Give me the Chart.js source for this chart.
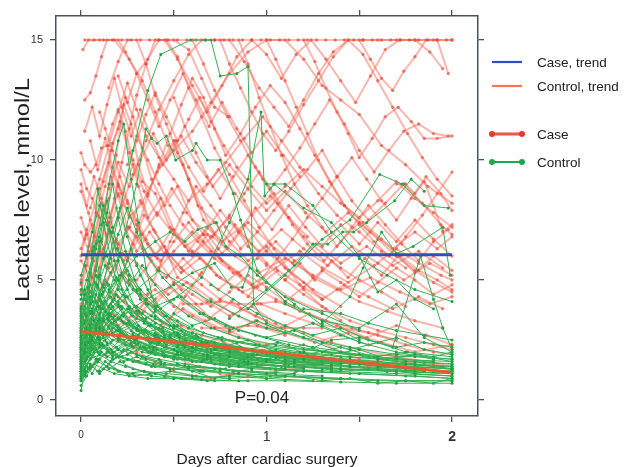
<!DOCTYPE html>
<html>
<head>
<meta charset="utf-8">
<title>Lactate level after cardiac surgery</title>
<script src="https://cdn.jsdelivr.net/npm/chart.js@4.4.1/dist/chart.umd.min.js"></script>
<style>
  html, body { margin: 0; padding: 0; background: #fff; }
  #wrap { width: 625px; height: 467px; }
</style>
</head>
<body>
<div id="wrap"><canvas id="chart" width="625" height="467"></canvas></div>
<script>
// ===== 数据：每位病人一条轨迹 [天, 乳酸 mmol/L] =====
const caseLines = [
  [[0.02,15],[0.07,15],[0.12,15],[0.17,15],[0.22,15],[0.27,15],[0.32,15],[0.37,15],[0.42,15],[0.47,15],[0.52,15],[0.57,15],[0.62,15],[0.67,15],[0.72,15],[0.77,15],[0.82,15],[0.87,15],[0.92,15],[0.97,15],[1.02,15],[1.07,15],[1.12,15],[1.17,15],[1.22,15],[1.27,15],[1.32,15],[1.37,15],[1.42,15],[1.47,15],[1.52,15],[1.57,15],[1.62,15],[1.67,15],[1.72,15],[1.77,15],[1.82,15],[1.87,15],[1.92,15],[1.97,15],[2.0,15]],
  [[0.01,14.6],[0.04,15],[0.1,15],[0.18,15],[0.26,14.2],[0.33,13.3],[0.4,12],[0.47,10.6],[0.55,9.8],[0.63,8.1],[0.72,7.4],[0.8,6.6],[0.9,5.8],[1.0,6.4],[1.1,5.5],[1.2,4.9],[1.3,4.2]],
  [[0.02,12.5],[0.05,12.8],[0.08,13.5],[0.11,14.3],[0.14,15],[0.2,15],[0.24,14.5],[0.3,13.6],[0.36,14.2],[0.42,15],[0.5,15],[0.58,14.6],[0.65,13.4],[0.72,12.2],[0.8,11.8]],
  [[0,10.3],[0.02,9.8],[0.05,9.5],[0.08,9.8],[0.11,10.5],[0.14,10.6],[0.17,11.5],[0.2,12.1],[0.24,11.2],[0.28,10],[0.33,9.1],[0.4,8.6],[0.48,7.2],[0.56,6.4],[0.66,6.9],[0.76,5.8],[0.86,5.2]],
  [[0,9.6],[0.03,8.8],[0.06,8.4],[0.09,7.7],[0.13,8.9],[0.17,10.7],[0.21,11.6],[0.26,10.3],[0.31,8.9],[0.36,7.6],[0.43,8.4],[0.5,7.1],[0.6,6.2],[0.7,5.5]],
  [[0,8.7],[0.04,7.8],[0.08,6.6],[0.12,7.9],[0.16,9.3],[0.2,8.5],[0.25,7.2],[0.3,6.8],[0.37,5.9],[0.45,6.4],[0.52,5.1],[0.6,4.8],[0.7,4.2],[0.82,3.6],[0.95,3.1],[1.1,2.7]],
  [[0,7.6],[0.03,6.9],[0.07,5.8],[0.11,6.7],[0.15,8.4],[0.19,10.2],[0.23,12.3],[0.27,11.5],[0.31,9.8],[0.36,8.6],[0.42,9.7],[0.5,10.8],[0.58,9.2],[0.66,7.5],[0.76,6.6],[0.88,7.3],[1.0,6.2],[1.12,5.4],[1.25,4.6],[1.4,3.9]],
  [[0,7.0],[0.04,6.2],[0.08,5.4],[0.13,4.8],[0.19,5.6],[0.25,4.9],[0.32,4.3],[0.4,4.6],[0.5,3.9],[0.6,3.5],[0.72,3.0],[0.85,2.6],[1.0,2.3]],
  [[0,6.3],[0.05,7.5],[0.1,8.8],[0.15,9.9],[0.2,8.9],[0.26,7.6],[0.33,8.2],[0.41,9.5],[0.5,10.4],[0.6,11.2],[0.7,12.4],[0.8,13.6],[0.9,14.5],[1.0,15],[1.1,15],[1.2,14.2],[1.3,13.1],[1.4,12.5],[1.5,11.9],[1.62,10.6],[1.75,9.8],[1.87,8.9],[2.0,8.2]],
  [[0,5.8],[0.05,5.2],[0.1,4.6],[0.16,5.3],[0.22,6.1],[0.3,5.7],[0.38,5.0],[0.47,4.4],[0.57,4.9],[0.68,4.1],[0.8,3.5],[0.92,3.9],[1.05,3.2],[1.2,2.8],[1.35,2.4],[1.5,2.1],[1.7,1.8],[1.85,1.6],[2.0,1.4]],
  [[0,5.0],[0.04,6.4],[0.08,7.8],[0.12,9.1],[0.16,10.4],[0.2,11.3],[0.24,12.6],[0.28,11.8],[0.33,10.5],[0.38,9.2],[0.45,8.1],[0.52,8.9],[0.6,7.5],[0.7,6.8],[0.8,7.6],[0.9,6.4],[1.0,5.6]],
  [[0,4.5],[0.03,5.6],[0.07,6.8],[0.11,8.2],[0.15,7.4],[0.2,6.5],[0.26,7.2],[0.32,8.3],[0.39,7.1],[0.46,6.2],[0.54,5.5],[0.63,6.1],[0.73,5.2],[0.85,4.6],[0.97,4.0],[1.1,3.6],[1.25,3.2],[1.4,3.0],[1.55,2.8],[1.7,2.5]],
  [[0,4.0],[0.04,4.6],[0.08,5.5],[0.12,6.3],[0.17,7.0],[0.22,8.1],[0.28,9.4],[0.35,10.8],[0.42,12.1],[0.5,13.3],[0.58,14.4],[0.65,15],[0.72,15],[0.8,15],[0.88,14.1],[0.96,13.0],[1.04,12.2],[1.12,11.4],[1.2,12.5],[1.28,13.6],[1.36,14.5],[1.44,15],[1.52,15],[1.6,15],[1.7,15],[1.8,15],[1.9,15],[2.0,15]],
  [[0,3.5],[0.03,4.2],[0.06,5.1],[0.1,6.2],[0.14,7.4],[0.18,6.6],[0.23,5.8],[0.28,6.5],[0.34,7.7],[0.4,7.0],[0.47,6.1],[0.55,5.4],[0.65,4.8],[0.75,4.2],[0.86,3.8],[1.0,3.3]],
  [[0,3.0],[0.04,3.8],[0.08,4.9],[0.12,6.1],[0.16,7.6],[0.2,9.0],[0.25,8.2],[0.3,7.3],[0.36,6.5],[0.43,5.8],[0.5,6.6],[0.58,7.4],[0.66,6.6],[0.75,5.9],[0.85,5.3],[0.95,5.9],[1.05,6.6],[1.15,5.8],[1.25,5.1],[1.38,4.6],[1.5,4.1],[1.65,3.7],[1.8,3.3],[1.95,3.0]],
  [[0,2.6],[0.04,3.2],[0.09,4.0],[0.14,3.6],[0.2,3.1],[0.27,3.5],[0.35,4.1],[0.44,3.6],[0.54,3.1],[0.65,2.7],[0.77,2.4],[0.9,2.1],[1.05,1.9],[1.2,1.7]],
  [[0.05,8.0],[0.1,9.2],[0.15,10.6],[0.2,12.0],[0.25,13.2],[0.3,12.1],[0.35,11.0],[0.42,10.1],[0.5,9.2],[0.58,8.3],[0.68,9.0],[0.78,9.9],[0.88,10.9],[0.98,11.8],[1.08,10.8],[1.18,9.7],[1.28,8.6],[1.38,7.7],[1.5,7.0],[1.62,6.2],[1.75,5.5]],
  [[0.1,5.5],[0.14,6.9],[0.18,8.4],[0.22,9.9],[0.26,11.3],[0.3,12.7],[0.35,14.0],[0.4,15],[0.46,15],[0.52,14.3],[0.58,13.0],[0.65,11.8],[0.72,10.5],[0.8,9.4],[0.88,8.3],[0.96,7.2],[1.04,6.3],[1.12,5.4],[1.2,4.6],[1.3,3.9],[1.4,3.3]],
  [[0.2,4.6],[0.25,5.8],[0.3,7.1],[0.36,8.5],[0.42,9.8],[0.48,11.1],[0.54,12.3],[0.6,13.4],[0.66,12.6],[0.72,11.3],[0.78,10.2],[0.86,11.1],[0.94,12.2],[1.02,13.1],[1.1,12.4],[1.18,11.3],[1.26,10.2],[1.34,9.1],[1.42,8.1],[1.52,7.4],[1.62,6.7],[1.72,6.0],[1.82,5.4],[1.92,5.0],[2.0,4.6]],
  [[0.3,3.5],[0.36,4.4],[0.42,5.5],[0.48,6.6],[0.55,7.8],[0.62,8.9],[0.7,8.1],[0.78,7.2],[0.86,6.3],[0.95,7.0],[1.04,7.9],[1.13,8.8],[1.22,9.6],[1.3,10.4],[1.38,9.3],[1.46,8.3],[1.55,7.5],[1.64,8.2],[1.74,9.0],[1.84,8.2],[1.94,7.3],[2.0,6.9]],
  [[0.45,15],[0.52,14.2],[0.6,13.1],[0.68,12.0],[0.76,13.1],[0.84,14.3],[0.92,15],[1.0,14.4],[1.08,13.4],[1.16,14.4],[1.24,15],[1.32,14.2],[1.4,13.3],[1.48,12.4],[1.56,13.5],[1.64,14.6],[1.72,15],[1.8,15],[1.88,14.5],[1.95,13.8]],
  [[0.6,15],[0.66,14.0],[0.72,12.9],[0.79,11.8],[0.86,10.8],[0.94,9.7],[1.02,8.8],[1.1,9.6],[1.18,10.5],[1.26,11.5],[1.34,12.5],[1.42,11.5],[1.5,10.4],[1.58,9.5],[1.66,10.4],[1.74,11.2],[1.82,11.5],[1.9,11.1],[1.98,11.0]],
  [[0.75,15],[0.8,14.0],[0.86,13.0],[0.92,12.0],[0.98,11.1],[1.05,10.4],[1.12,11.2],[1.2,12.3],[1.28,13.3],[1.36,14.3],[1.44,15],[1.52,14.4],[1.6,13.3],[1.68,12.2],[1.76,11.1],[1.84,10.1],[1.92,9.2],[2.0,8.5]],
  [[0.85,15],[0.9,14.0],[0.96,12.6],[1.02,11.4],[1.08,10.2],[1.15,9.0],[1.22,8.1],[1.3,7.2],[1.38,6.4],[1.46,7.2],[1.55,8.1],[1.64,7.3],[1.73,6.5],[1.82,5.8],[1.9,6.6],[1.98,7.1]],
  [[1.2,15],[1.26,14.1],[1.32,13.0],[1.38,12.0],[1.44,11.1],[1.5,10.1],[1.57,10.9],[1.64,11.8],[1.71,12.2],[1.78,11.6],[1.85,10.9],[1.92,10.9],[2.0,11.0]],
  [[1.5,15],[1.56,14.2],[1.62,13.4],[1.68,12.9],[1.74,13.7],[1.8,14.3],[1.86,15],[1.92,15],[1.98,13.6]],
  [[0.05,3.2],[0.1,3.8],[0.16,4.5],[0.23,4.1],[0.31,3.6],[0.4,4.2],[0.5,4.9],[0.6,4.4],[0.7,3.9],[0.8,4.5],[0.9,5.2],[1.0,4.7],[1.1,4.1],[1.2,4.7],[1.3,5.4],[1.4,4.9],[1.5,4.3],[1.6,4.9],[1.7,5.5],[1.8,5.0],[1.9,4.4],[2.0,4.8]],
  [[0,2.2],[0.05,2.6],[0.1,3.1],[0.18,2.7],[0.27,2.3],[0.37,2.0],[0.5,1.8],[0.62,1.4],[0.75,1.1],[0.9,1.0],[1.05,1.2],[1.2,1.4]],
  [[0.02,6.7],[0.06,7.3],[0.1,6.4],[0.15,5.5],[0.2,6.3],[0.26,7.2],[0.33,6.3],[0.41,5.4],[0.5,6.2],[0.6,7.0],[0.7,6.2],[0.8,5.5],[0.92,4.8],[1.05,5.5],[1.18,6.2],[1.3,5.5],[1.44,4.9],[1.58,5.6],[1.7,6.3],[1.82,5.7],[1.94,5.2],[2.0,5.0]],
  [[0.3,11.0],[0.36,10.0],[0.42,9.0],[0.48,8.1],[0.55,7.3],[0.63,6.6],[0.72,5.9],[0.82,5.3],[0.93,4.7],[1.05,4.2],[1.18,3.7],[1.32,3.3],[1.46,3.0],[1.6,2.7],[1.75,2.3],[1.9,2.0],[2.0,1.9]],
  [[0.15,13.0],[0.2,14.1],[0.25,15],[0.3,15],[0.35,14.0],[0.4,12.7],[0.46,11.5],[0.52,10.3],[0.58,9.2],[0.65,8.0],[0.72,6.9],[0.8,7.7],[0.88,8.6],[0.96,9.5],[1.04,8.6],[1.12,7.6],[1.2,6.8],[1.3,6.1],[1.4,5.5],[1.5,5.0],[1.62,4.5],[1.75,3.9]],
  [[0.4,2.6],[0.48,3.4],[0.56,4.3],[0.65,5.3],[0.74,6.3],[0.83,7.3],[0.92,6.5],[1.0,5.7],[1.1,5.0],[1.2,4.4],[1.32,3.8],[1.45,3.3],[1.6,2.9],[1.75,2.6],[1.9,2.3],[2.0,2.1]],
  [[1.0,15],[1.05,14.2],[1.1,13.3],[1.16,12.2],[1.22,11.1],[1.28,10.0],[1.35,9.0],[1.42,8.1],[1.5,7.3],[1.58,6.6],[1.66,6.0],[1.75,6.8],[1.84,7.7],[1.92,8.6],[2.0,9.5]],
  [[0.5,12.6],[0.56,11.4],[0.62,10.3],[0.68,9.3],[0.75,8.4],[0.82,9.3],[0.9,10.2],[0.98,9.2],[1.06,8.2],[1.14,7.3],[1.22,6.5],[1.31,5.8],[1.4,6.6],[1.5,7.4],[1.6,6.7],[1.7,6.0],[1.8,5.4],[1.9,4.9],[2.0,4.5]],
  [[0.9,4.3],[0.98,5.1],[1.06,5.9],[1.14,6.7],[1.22,7.6],[1.3,8.4],[1.38,9.3],[1.46,10.1],[1.54,9.2],[1.62,8.3],[1.7,7.5],[1.78,8.4],[1.86,9.3],[1.94,8.6],[2.0,7.9]],
  [[0.2,2.5],[0.3,2.0],[0.4,1.6],[0.5,1.2],[0.6,1.0],[0.7,0.9],[0.82,1.1],[0.95,1.4],[1.1,1.6],[1.25,1.5],[1.4,1.3],[1.55,1.4],[1.7,1.6],[1.85,1.5],[2.0,1.3]],
  [[0.65,3.0],[0.72,3.0],[0.8,3.0],[0.9,3.1],[1.0,3.0],[1.1,3.0],[1.2,3.0],[1.3,3.0]],
  [[1.3,2.4],[1.4,2.0],[1.5,1.7],[1.6,1.6],[1.7,1.8],[1.8,1.6],[1.9,1.5],[2.0,1.2]],
  [[0.1,12.0],[0.13,11.3],[0.17,10.4],[0.21,9.3],[0.25,8.3],[0.3,7.5],[0.35,6.7],[0.41,5.9],[0.47,5.2],[0.54,4.6],[0.62,4.0],[0.7,3.4],[0.8,2.9],[0.9,2.5]],
  [[0.25,9.8],[0.3,10.8],[0.35,11.9],[0.4,12.8],[0.46,11.8],[0.52,10.8],[0.58,11.7],[0.64,12.6],[0.7,11.6],[0.77,10.6],[0.84,9.7],[0.92,8.9],[1.0,8.2],[1.1,8.9],[1.2,9.6],[1.3,8.9],[1.4,8.2],[1.5,7.6],[1.6,8.3],[1.7,9.1],[1.8,8.4],[1.9,7.8],[2.0,7.2]],
  [[1.7,9.0],[1.75,9.0],[1.8,8.6],[1.85,9.1],[1.9,8.1],[1.95,7.0],[2.0,7.3]],
  [[0.55,4.0],[0.65,4.0],[0.75,4.1],[0.85,4.0],[0.95,4.0],[1.05,4.1],[1.15,3.9]],
  [[0,6.0],[0.03,7.1],[0.06,6.3],[0.1,7.6],[0.14,6.8],[0.19,8.0],[0.24,7.1],[0.3,6.2],[0.37,7.0],[0.45,6.1],[0.54,5.3],[0.64,5.9],[0.75,5.1],[0.87,4.5],[1.0,4.9],[1.14,4.2],[1.3,3.7]],
  [[0,9.0],[0.03,8.1],[0.07,9.3],[0.11,8.4],[0.15,7.6],[0.2,8.6],[0.26,7.7],[0.33,6.9],[0.41,7.8],[0.5,6.9],[0.6,6.1],[0.71,6.8],[0.83,6.0],[0.96,5.3],[1.1,5.9],[1.25,5.2],[1.4,4.6],[1.56,5.1],[1.72,4.5],[1.88,4.0],[2.0,4.3]],
  [[0,4.8],[0.03,5.9],[0.06,5.1],[0.1,6.3],[0.14,5.5],[0.19,6.7],[0.25,5.8],[0.32,6.9],[0.4,6.0],[0.49,7.1],[0.58,6.2],[0.68,7.2],[0.79,6.3],[0.9,7.4],[1.02,6.5],[1.14,5.7],[1.27,6.5],[1.4,5.7],[1.54,6.4],[1.68,5.6],[1.82,6.2],[1.95,5.5]],
  [[0.05,10.8],[0.09,9.6],[0.13,10.9],[0.17,9.7],[0.22,8.6],[0.28,9.8],[0.34,8.7],[0.41,7.7],[0.49,8.8],[0.57,7.8],[0.66,6.9],[0.75,7.9],[0.85,7.0],[0.96,6.2],[1.08,7.1],[1.2,6.3],[1.33,5.6],[1.46,6.4],[1.6,5.7],[1.74,5.0],[1.88,5.7],[2.0,5.2]],
  [[0,3.8],[0.04,4.7],[0.08,4.1],[0.13,5.0],[0.18,4.3],[0.24,5.3],[0.31,4.6],[0.39,3.9],[0.48,4.7],[0.58,4.0],[0.69,3.4],[0.81,4.1],[0.94,3.5],[1.08,3.0],[1.23,3.6],[1.38,3.1],[1.54,2.6],[1.7,3.1],[1.86,2.7],[2.0,2.3]],
  [[0.02,11.2],[0.06,12.2],[0.1,11.0],[0.14,12.3],[0.18,13.4],[0.22,12.2],[0.27,11.0],[0.32,12.1],[0.38,10.9],[0.44,9.8],[0.51,10.8],[0.58,9.7],[0.66,8.7],[0.74,9.6],[0.83,8.6],[0.92,7.7],[1.02,8.5],[1.12,7.6],[1.22,6.8]],
  [[0.6,6.0],[0.68,6.9],[0.76,6.1],[0.85,7.0],[0.94,8.0],[1.03,7.1],[1.12,8.1],[1.21,7.2],[1.3,6.4],[1.4,7.3],[1.5,6.5],[1.6,7.4],[1.7,6.6],[1.8,7.5],[1.9,6.7],[2.0,6.0]],
  [[0.3,5.0],[0.38,5.8],[0.46,5.1],[0.55,5.9],[0.64,5.2],[0.74,4.6],[0.84,5.3],[0.95,4.7],[1.06,5.4],[1.18,4.8],[1.3,4.2],[1.42,4.8],[1.55,4.3],[1.68,3.8],[1.82,4.3],[1.95,3.8]],
  [[0.1,3.0],[0.17,3.6],[0.25,3.1],[0.34,3.7],[0.44,3.2],[0.55,3.8],[0.67,3.3],[0.8,2.8],[0.94,3.3],[1.1,2.8],[1.26,2.4],[1.44,2.8],[1.62,2.4],[1.8,2.0],[2.0,2.3]],
  [[0.15,8.8],[0.2,9.9],[0.26,8.9],[0.32,10.0],[0.39,11.1],[0.46,10.0],[0.54,11.0],[0.62,9.9],[0.71,8.9],[0.8,9.8],[0.9,8.8],[1.0,7.9],[1.1,8.7],[1.21,7.8],[1.32,7.0],[1.44,7.8],[1.56,7.0],[1.68,6.3],[1.8,7.0],[1.92,6.3],[2.0,6.8]],
  [[0.2,13.5],[0.25,12.4],[0.3,13.6],[0.36,12.5],[0.42,11.4],[0.48,12.5],[0.55,13.6],[0.62,12.5],[0.69,11.4],[0.76,12.4],[0.84,11.3],[0.92,10.3],[1.0,11.2],[1.09,10.2],[1.18,9.3]],
  [[1.1,5.0],[1.18,5.7],[1.26,5.0],[1.35,5.8],[1.44,5.1],[1.53,5.9],[1.62,5.2],[1.71,6.0],[1.8,5.3],[1.9,6.0],[2.0,5.4]]
];

const controlLines = [
  [[0,2.4],[0.05,3.1],[0.12,4.8],[0.2,7.6],[0.28,10.4],[0.36,12.9],[0.43,14.4],[0.59,15],[0.67,15],[0.7,15],[0.75,13.5],[0.84,13.6],[0.9,13.9],[0.93,4.0],[1.0,3.2],[1.2,2.6],[1.4,2.0],[1.6,1.7],[1.8,1.5],[2.0,1.3]],
  [[0,1.6],[0.1,2.5],[0.2,2.9],[0.35,3.4],[0.5,4.2],[0.65,5.1],[0.8,7.4],[0.9,9.2],[0.97,12.0],[0.99,8.5],[1.04,9.0],[1.1,9.0],[1.25,8.1],[1.35,7.0],[1.5,5.9],[1.65,5.2],[1.8,4.6],[2.0,4.1]],
  [[0,1.5],[0.1,3.0],[0.2,5.8],[0.3,9.0],[0.35,11.3],[0.38,10.9],[0.41,10.7],[0.46,11.0],[0.51,10.0],[0.6,10.4],[0.62,10.7],[0.68,10.0],[0.75,10.0],[0.82,8.6],[0.86,7.5],[0.95,5.4],[1.1,4.1],[1.3,3.3],[1.5,2.5]],
  [[0,2.1],[0.05,4.0],[0.1,6.6],[0.15,9.0],[0.2,10.8],[0.23,11.5],[0.27,9.2],[0.31,7.4],[0.35,5.5],[0.4,3.8],[0.5,3.0],[0.65,2.4],[0.8,2.0],[1.0,1.7]],
  [[0,1.8],[0.03,3.5],[0.06,6.2],[0.09,8.8],[0.12,7.4],[0.16,5.9],[0.2,4.6],[0.26,3.9],[0.34,3.2],[0.45,2.6],[0.6,2.2],[0.8,1.8],[1.0,1.6],[1.3,1.3]],
  [[0,2.9],[0.04,4.7],[0.08,6.5],[0.12,8.1],[0.16,7.0],[0.2,5.8],[0.25,4.6],[0.3,3.7],[0.38,3.1],[0.48,2.6],[0.6,2.2],[0.75,1.9],[0.9,1.6]],
  [[0.9,3.8],[1.1,5.2],[1.3,6.7],[1.45,7.5],[1.61,9.4],[1.73,9.0],[1.85,8.1],[1.98,8.0]],
  [[1.0,9.0],[1.04,9.0],[1.2,8.0],[1.35,7.4],[1.5,6.0],[1.6,4.5],[1.7,5.0],[1.8,4.2],[1.9,3.8]],
  [[1.3,3.2],[1.45,4.3],[1.52,5.5],[1.62,7.0],[1.7,6.1],[1.79,6.4],[1.95,7.2],[1.99,5.2]],
  [[1.2,2.0],[1.35,2.5],[1.5,2.6],[1.68,2.2],[1.83,6.0],[1.9,4.2],[1.95,3.0],[2.0,2.1]],
  [[0.8,3.4],[1.0,4.6],[1.15,5.6],[1.25,6.5],[1.33,6.5],[1.41,7.0],[1.47,7.0],[1.54,7.4],[1.69,8.3],[1.78,9.2],[1.85,8.7]],
  [[0,2.2],[0.1,3.6],[0.2,5.0],[0.3,6.0],[0.4,6.6],[0.48,7.0],[0.56,6.6],[0.63,7.1],[0.73,7.4],[0.78,6.4],[0.86,6.0],[0.95,5.2],[1.1,4.3],[1.3,3.6],[1.5,2.9]],
  [[0,1.2],[0.1,2.2],[0.2,3.4],[0.35,4.2],[0.5,4.8],[0.6,5.3],[0.72,5.7],[0.81,4.7],[0.87,4.7],[0.91,5.5],[1.0,4.9],[1.15,4.0],[1.3,3.1],[1.5,2.4],[1.7,2.0],[1.9,1.7]],
  [[0,3.8],[0.02,3.2],[0.05,2.9],[0.09,3.3],[0.14,2.8],[0.2,2.5],[0.28,2.2],[0.38,2.0],[0.5,1.8],[0.65,1.6],[0.85,1.4],[1.1,1.3]],
  [[0,1.0],[0.02,1.6],[0.05,2.2],[0.09,2.6],[0.14,2.4],[0.2,2.1],[0.3,1.9],[0.42,1.7],[0.56,1.5],[0.75,1.3],[1.0,1.1],[1.3,1.0]],
  [[0,2.5],[0.03,2.9],[0.06,3.6],[0.1,4.2],[0.15,3.9],[0.22,3.5],[0.3,3.0],[0.4,2.6],[0.52,2.2],[0.68,1.9],[0.88,1.7],[1.1,1.5],[1.35,1.4]],
  [[0,0.4],[0.02,1.2],[0.05,1.7],[0.1,1.9],[0.16,1.6],[0.24,1.4],[0.34,1.2],[0.46,1.1],[0.6,1.0],[0.8,0.9]],
  [[0,3.2],[0.03,4.1],[0.07,4.9],[0.11,4.4],[0.16,3.8],[0.22,3.3],[0.3,3.0],[0.4,2.7],[0.55,2.4],[0.72,2.1],[0.95,1.9],[1.2,1.7],[1.5,1.5],[1.8,1.3],[2.0,1.2]],
  [[0,1.9],[0.02,2.3],[0.05,2.7],[0.08,3.1],[0.12,2.8],[0.17,2.5],[0.24,2.3],[0.33,2.0],[0.45,1.8],[0.6,1.6],[0.8,1.5],[1.05,1.3],[1.35,1.2],[1.7,1.1],[2.0,1.0]],
  [[0,1.4],[0.03,1.8],[0.07,2.4],[0.12,3.0],[0.18,3.5],[0.25,3.2],[0.33,2.9],[0.42,2.6],[0.55,2.3],[0.7,2.0],[0.9,1.8],[1.15,1.6],[1.4,1.5]],
  [[0,2.7],[0.02,3.3],[0.05,4.0],[0.09,4.8],[0.13,5.6],[0.18,5.0],[0.24,4.3],[0.31,3.7],[0.4,3.2],[0.52,2.8],[0.68,2.4],[0.88,2.1],[1.1,1.8],[1.4,1.6],[1.7,1.4],[2.0,1.3]],
  [[0,0.9],[0.02,1.3],[0.06,1.8],[0.11,2.3],[0.17,2.0],[0.25,1.7],[0.35,1.5],[0.48,1.3],[0.64,1.2],[0.85,1.1],[1.1,1.0],[1.4,0.9]],
  [[0,3.5],[0.03,3.0],[0.06,2.6],[0.1,2.9],[0.15,3.3],[0.21,2.9],[0.29,2.5],[0.39,2.2],[0.52,1.9],[0.68,1.7],[0.9,1.5],[1.15,1.4]],
  [[0,2.0],[0.04,2.4],[0.08,3.0],[0.13,3.7],[0.19,4.4],[0.26,3.9],[0.34,3.3],[0.44,2.8],[0.57,2.4],[0.73,2.1],[0.93,1.9],[1.2,1.7],[1.5,1.5],[1.75,1.3],[2.0,1.2]],
  [[0,1.6],[0.03,2.0],[0.06,2.5],[0.1,2.3],[0.15,2.0],[0.22,1.8],[0.31,1.6],[0.43,1.5],[0.58,1.4],[0.78,1.3]],
  [[0,4.2],[0.03,5.0],[0.06,5.9],[0.1,6.8],[0.14,6.0],[0.19,5.1],[0.25,4.3],[0.33,3.6],[0.43,3.1],[0.56,2.7],[0.72,2.4],[0.92,2.1],[1.15,1.9],[1.45,1.7],[1.75,1.5],[2.0,1.4]],
  [[0,2.3],[0.02,2.0],[0.05,2.4],[0.08,2.9],[0.12,3.3],[0.17,3.0],[0.23,2.7],[0.31,2.4],[0.41,2.1],[0.54,1.9],[0.7,1.7],[0.92,1.5],[1.2,1.3]],
  [[0,1.1],[0.03,1.5],[0.07,2.0],[0.12,2.7],[0.18,3.3],[0.25,3.8],[0.33,3.4],[0.42,3.0],[0.53,2.6],[0.67,2.3],[0.84,2.0],[1.05,1.8],[1.3,1.6],[1.6,1.4],[1.9,1.2]],
  [[0,3.0],[0.02,3.6],[0.05,4.3],[0.09,3.9],[0.14,3.4],[0.2,3.0],[0.28,2.7],[0.38,2.4],[0.5,2.1],[0.66,1.9],[0.86,1.7],[1.1,1.5],[1.4,1.3],[1.7,1.2]],
  [[0,1.7],[0.04,2.1],[0.09,2.6],[0.15,3.1],[0.22,2.8],[0.3,2.5],[0.4,2.2],[0.52,2.0],[0.68,1.8],[0.88,1.6],[1.12,1.4]],
  [[0,2.6],[0.03,3.0],[0.06,3.4],[0.1,3.9],[0.15,4.5],[0.21,5.2],[0.28,4.6],[0.36,4.0],[0.46,3.5],[0.58,3.0],[0.74,2.6],[0.94,2.3],[1.18,2.0],[1.45,1.8],[1.75,1.6],[2.0,1.5]],
  [[0,0.8],[0.02,1.1],[0.05,1.4],[0.09,1.7],[0.14,2.0],[0.2,1.8],[0.28,1.6],[0.38,1.4],[0.5,1.3],[0.65,1.2],[0.85,1.1],[1.1,1.0],[1.4,0.9],[1.75,0.8],[2.0,0.8]],
  [[0,3.4],[0.02,3.9],[0.05,4.5],[0.08,5.2],[0.12,4.7],[0.17,4.1],[0.23,3.6],[0.31,3.1],[0.41,2.7],[0.54,2.4],[0.7,2.1],[0.9,1.8]],
  [[0,1.3],[0.03,1.7],[0.06,2.1],[0.1,2.6],[0.15,3.0],[0.21,2.7],[0.29,2.4],[0.39,2.1],[0.51,1.9],[0.66,1.7],[0.85,1.5],[1.08,1.4],[1.35,1.3],[1.65,1.2],[2.0,1.1]],
  [[0,2.8],[0.04,2.4],[0.08,2.1],[0.13,2.5],[0.19,2.9],[0.26,3.3],[0.34,2.9],[0.44,2.5],[0.56,2.2],[0.72,1.9],[0.92,1.7],[1.15,1.5],[1.45,1.4],[1.8,1.2]],
  [[0,2.1],[0.02,2.6],[0.05,3.2],[0.08,3.8],[0.12,4.5],[0.16,5.3],[0.21,6.1],[0.26,5.2],[0.32,4.4],[0.4,3.7],[0.5,3.1],[0.63,2.6],[0.8,2.2],[1.0,1.9],[1.25,1.7],[1.55,1.5],[1.85,1.3]],
  [[0,1.5],[0.02,1.9],[0.05,2.2],[0.09,2.0],[0.14,1.8],[0.2,2.1],[0.27,2.4],[0.35,2.1],[0.45,1.9],[0.58,1.7],[0.75,1.5],[0.95,1.4],[1.2,1.2],[1.5,1.1],[1.8,1.0],[2.0,0.9]],
  [[0,4.6],[0.03,4.1],[0.06,3.7],[0.1,3.3],[0.15,3.6],[0.21,3.9],[0.28,3.5],[0.37,3.1],[0.48,2.7],[0.62,2.4],[0.8,2.1],[1.02,1.9],[1.3,1.7],[1.6,1.6],[1.9,1.4]],
  [[0,1.0],[0.04,1.3],[0.08,1.6],[0.13,1.9],[0.19,2.2],[0.26,2.5],[0.34,2.2],[0.44,1.9],[0.56,1.7],[0.72,1.5],[0.92,1.3],[1.16,1.2],[1.45,1.1],[1.75,1.0],[2.0,0.9]],
  [[0,2.4],[0.03,2.8],[0.07,3.3],[0.11,3.8],[0.16,4.3],[0.22,3.9],[0.3,3.4],[0.4,3.0],[0.52,2.7],[0.67,2.4],[0.86,2.2],[1.1,2.0],[1.4,1.8],[1.7,1.7],[2.0,1.6]],
  [[0,1.8],[0.02,2.1],[0.05,2.5],[0.08,2.9],[0.12,3.4],[0.17,3.9],[0.23,4.4],[0.3,3.9],[0.38,3.5],[0.48,3.1],[0.6,2.8],[0.76,2.5],[0.96,2.3],[1.2,2.1],[1.5,1.9],[1.8,1.8],[2.0,1.7]],
  [[0,3.1],[0.02,2.7],[0.05,2.3],[0.09,2.0],[0.14,2.3],[0.2,2.6],[0.27,2.3],[0.36,2.0],[0.47,1.8],[0.62,1.6],[0.8,1.4],[1.02,1.3],[1.3,1.2]],
  [[0,5.2],[0.03,6.0],[0.06,7.0],[0.1,8.1],[0.14,7.3],[0.19,6.3],[0.25,5.4],[0.32,4.6],[0.41,3.9],[0.52,3.3],[0.66,2.8],[0.84,2.4],[1.05,2.1],[1.3,1.8]],
  [[0,2.0],[0.03,2.3],[0.06,2.6],[0.1,3.0],[0.15,3.5],[0.2,4.1],[0.26,4.8],[0.33,5.6],[0.4,4.8],[0.48,4.1],[0.58,3.5],[0.7,3.0],[0.85,2.6],[1.05,2.3],[1.3,2.0],[1.6,1.8],[1.9,1.6]],
  [[0,1.2],[0.02,1.0],[0.05,1.3],[0.09,1.6],[0.14,1.4],[0.2,1.2],[0.28,1.1],[0.38,1.0],[0.5,0.9],[0.65,0.85],[0.85,0.8],[1.1,0.8],[1.4,0.75],[1.7,0.7],[2.0,0.7]],
  [[0,3.6],[0.02,4.4],[0.05,5.3],[0.08,6.3],[0.11,7.3],[0.14,8.3],[0.17,7.2],[0.21,6.0],[0.26,5.0],[0.32,4.2],[0.4,3.5],[0.5,3.0],[0.62,2.6],[0.78,2.3],[0.98,2.0]],
  [[0.02,1.9],[0.06,2.3],[0.11,2.0],[0.17,1.7],[0.25,1.9],[0.34,2.2],[0.44,2.0],[0.56,1.8],[0.7,1.6],[0.88,1.5],[1.1,1.4],[1.35,1.3],[1.65,1.2],[2.0,1.1]],
  [[0,2.9],[0.03,3.3],[0.06,3.8],[0.1,4.3],[0.15,4.8],[0.2,4.3],[0.26,3.8],[0.34,3.3],[0.44,2.9],[0.56,2.5],[0.72,2.2],[0.92,1.9],[1.15,1.7],[1.45,1.6],[1.75,1.5],[2.0,1.4]],
  [[0.1,1.2],[0.2,1.8],[0.3,2.6],[0.4,3.4],[0.5,3.0],[0.6,2.6],[0.75,2.2],[0.9,1.9],[1.1,1.7],[1.35,1.5],[1.6,1.3],[1.85,1.2]],
  [[0.2,4.0],[0.3,4.6],[0.42,5.4],[0.55,4.8],[0.7,4.1],[0.85,3.5],[1.0,3.0],[1.2,2.6],[1.45,2.2],[1.7,1.9],[2.0,1.7]],
  [[0,1.6],[0.05,3.0],[0.1,4.4],[0.15,5.7],[0.2,6.9],[0.25,8.0],[0.3,7.0],[0.36,6.0],[0.44,5.1],[0.54,4.3],[0.66,3.6],[0.82,3.0],[1.0,2.6],[1.25,2.2],[1.5,1.9]],
  [[0,0.8],[0.03,1.2],[0.07,1.5],[0.12,1.3],[0.18,1.1],[0.26,1.0],[0.36,0.9],[0.5,0.9],[0.68,0.8],[0.9,0.8]],
  [[0.05,2.9],[0.1,3.2],[0.16,3.5],[0.23,3.2],[0.31,2.9],[0.41,2.6],[0.53,2.3],[0.68,2.1],[0.86,1.9],[1.08,1.8],[1.35,1.6],[1.65,1.5],[1.95,1.4]],
  [[1.2,3.8],[1.4,3.6],[1.55,3.2],[1.7,2.9],[1.85,2.7],[2.0,2.5]],
  [[1.1,4.0],[1.3,3.3],[1.5,3.0],[1.7,4.0],[1.85,2.6],[2.0,2.0]],
  [[0,2.2],[0.03,2.9],[0.06,2.5],[0.1,3.4],[0.14,2.7],[0.19,3.1],[0.25,2.6],[0.32,2.2],[0.42,2.4],[0.55,1.9],[0.7,1.7]],
  [[0,1.3],[0.02,2.4],[0.05,1.9],[0.08,2.8],[0.12,2.2],[0.17,1.8],[0.23,2.1],[0.3,1.6],[0.4,1.4],[0.52,1.5],[0.66,1.2]],
  [[0,3.3],[0.02,2.6],[0.05,3.7],[0.08,3.0],[0.12,4.0],[0.16,3.2],[0.21,2.8],[0.28,3.1],[0.36,2.5],[0.46,2.2],[0.6,2.0],[0.78,1.7]],
  [[0,0.6],[0.03,1.0],[0.06,1.4],[0.1,1.1],[0.15,1.5],[0.21,1.2],[0.29,1.0],[0.4,1.1],[0.54,0.9],[0.72,0.8]],
  [[0,4.9],[0.02,4.2],[0.05,3.6],[0.08,4.4],[0.12,3.8],[0.17,3.2],[0.23,3.6],[0.3,2.9],[0.4,2.5],[0.52,2.3],[0.68,2.0],[0.9,1.8]],
  [[0,2.6],[0.02,3.8],[0.04,5.0],[0.07,6.4],[0.1,5.2],[0.13,4.1],[0.17,3.4],[0.22,3.8],[0.28,3.0],[0.36,2.6],[0.46,2.3],[0.6,2.0]],
  [[0,1.7],[0.03,2.6],[0.06,3.6],[0.09,4.7],[0.12,5.9],[0.15,7.1],[0.18,5.8],[0.22,4.6],[0.27,3.6],[0.33,2.9],[0.41,2.4],[0.52,2.0],[0.66,1.7]],
  [[0,2.0],[0.02,1.6],[0.05,2.1],[0.08,1.7],[0.12,2.3],[0.17,1.9],[0.23,1.6],[0.3,1.8],[0.39,1.5],[0.5,1.3],[0.64,1.4],[0.82,1.2],[1.05,1.1]],
  [[0,3.9],[0.03,3.4],[0.06,4.1],[0.1,3.5],[0.15,3.0],[0.21,3.4],[0.28,2.8],[0.37,2.4],[0.48,2.6],[0.62,2.1],[0.8,1.9],[1.02,1.7],[1.3,1.5]],
  [[0,1.1],[0.02,1.7],[0.05,2.4],[0.08,3.2],[0.12,2.6],[0.16,2.1],[0.21,2.5],[0.27,2.0],[0.35,1.7],[0.45,1.5],[0.58,1.3],[0.75,1.2]],
  [[0,2.8],[0.03,3.5],[0.06,4.3],[0.09,5.1],[0.13,6.0],[0.17,7.0],[0.21,8.0],[0.25,6.8],[0.3,5.6],[0.36,4.6],[0.43,3.8],[0.52,3.1],[0.63,2.6],[0.77,2.2]],
  [[0,1.4],[0.02,1.1],[0.05,1.5],[0.09,1.2],[0.13,1.6],[0.18,1.3],[0.25,1.1],[0.34,1.2],[0.45,1.0],[0.6,0.9],[0.8,1.0],[1.0,0.9],[1.25,0.8]],
  [[0,3.7],[0.02,4.6],[0.05,4.0],[0.08,4.8],[0.11,4.1],[0.15,3.5],[0.2,3.9],[0.26,3.2],[0.34,2.8],[0.44,3.0],[0.56,2.5],[0.72,2.2],[0.92,1.9],[1.15,1.7],[1.45,1.5],[1.75,1.4],[2.0,1.3]],
  [[0,2.3],[0.03,2.7],[0.07,2.2],[0.11,2.9],[0.16,2.4],[0.22,2.0],[0.3,2.3],[0.4,1.9],[0.52,1.7],[0.68,1.8],[0.88,1.5],[1.12,1.4],[1.4,1.3],[1.7,1.2],[2.0,1.1]],
  [[0,1.9],[0.02,3.0],[0.05,4.2],[0.08,5.4],[0.11,6.6],[0.14,7.8],[0.17,9.0],[0.2,7.6],[0.24,6.2],[0.29,5.0],[0.35,4.0],[0.43,3.3],[0.53,2.7],[0.66,2.3],[0.82,2.0]],
  [[0,0.9],[0.03,1.4],[0.06,1.1],[0.1,1.7],[0.15,1.3],[0.21,1.6],[0.28,1.3],[0.37,1.1],[0.48,1.2],[0.62,1.0],[0.8,0.9],[1.02,1.0],[1.3,0.9],[1.6,0.8],[2.0,0.8]],
  [[0,4.4],[0.02,3.8],[0.05,3.3],[0.08,2.9],[0.12,3.3],[0.17,2.8],[0.23,2.5],[0.31,2.7],[0.41,2.3],[0.54,2.0],[0.7,1.8],[0.9,1.6],[1.15,1.5],[1.45,1.4],[1.8,1.3]],
  [[0,2.5],[0.02,2.1],[0.05,2.7],[0.08,3.4],[0.12,2.9],[0.16,3.6],[0.21,3.0],[0.27,2.6],[0.35,2.9],[0.45,2.4],[0.58,2.1],[0.74,1.9],[0.95,1.7],[1.2,1.6],[1.5,1.5],[1.8,1.4],[2.0,1.3]],
  [[0,1.5],[0.03,2.2],[0.06,3.0],[0.1,3.9],[0.14,4.9],[0.18,4.2],[0.23,3.5],[0.29,3.9],[0.36,3.2],[0.45,2.7],[0.56,2.3],[0.7,2.0],[0.88,1.8],[1.1,1.6],[1.35,1.5]],
  [[0,3.0],[0.03,2.5],[0.06,2.1],[0.1,2.5],[0.14,2.1],[0.19,1.8],[0.25,2.1],[0.33,1.8],[0.43,1.6],[0.56,1.4],[0.72,1.3],[0.92,1.2],[1.15,1.1]],
  [[0.02,5.6],[0.05,4.8],[0.08,4.1],[0.12,3.5],[0.16,4.0],[0.21,3.4],[0.27,2.9],[0.35,2.5],[0.45,2.2],[0.58,1.9],[0.75,1.7],[0.95,1.5]],
  [[0,1.2],[0.04,1.8],[0.08,2.5],[0.12,3.3],[0.17,4.2],[0.22,5.2],[0.27,6.3],[0.32,5.2],[0.38,4.3],[0.45,3.5],[0.54,2.9],[0.65,2.4],[0.8,2.0],[1.0,1.7],[1.25,1.5],[1.55,1.3],[1.85,1.2]],
  [[0.3,1.6],[0.4,2.0],[0.5,1.7],[0.62,2.2],[0.75,1.8],[0.9,1.5],[1.05,1.7],[1.2,1.4],[1.4,1.2],[1.6,1.3],[1.8,1.1],[2.0,1.0]],
  [[0.4,2.8],[0.5,2.4],[0.62,2.7],[0.75,2.2],[0.9,2.5],[1.05,2.0],[1.2,2.3],[1.35,1.9],[1.5,2.1],[1.65,1.7],[1.8,1.9],[2.0,1.6]],
  [[0.5,3.6],[0.6,3.1],[0.72,3.4],[0.85,2.9],[1.0,2.6],[1.15,2.9],[1.3,2.4],[1.45,2.1],[1.6,2.4],[1.75,2.0],[1.9,1.8],[2.0,2.0]],
  [[0.6,1.2],[0.72,0.9],[0.85,1.1],[1.0,0.9],[1.15,1.0],[1.3,0.8],[1.45,0.9],[1.6,0.7],[1.75,0.8],[1.9,0.7],[2.0,0.9]],
  [[0.05,2.0],[0.1,2.4],[0.18,2.0],[0.27,2.6],[0.37,2.2],[0.5,2.8],[0.62,2.3],[0.76,2.6],[0.9,2.1],[1.06,2.4],[1.22,1.9],[1.4,2.2],[1.58,1.8],[1.76,2.0],[2.0,1.8]],
  [[0.15,4.6],[0.22,5.3],[0.3,4.5],[0.4,3.9],[0.52,4.3],[0.64,3.6],[0.78,3.1],[0.94,2.7],[1.12,2.3],[1.32,2.0],[1.55,1.8],[1.8,1.6],[2.0,1.5]],
  [[0.7,4.8],[0.82,4.2],[0.95,3.6],[1.1,3.1],[1.25,2.7],[1.4,3.0],[1.55,2.5],[1.7,2.2],[1.85,2.4],[2.0,2.2]],
  [[0.8,2.9],[0.95,3.3],[1.1,2.8],[1.25,3.2],[1.4,2.7],[1.55,2.3],[1.7,2.6],[1.85,2.1],[2.0,1.9]]
];

// 趋势线（模型拟合）
const caseTrend = [[0, 6.05], [2, 6.05]];
const controlTrend = [[0, 2.85], [2, 1.15]];

// 坐标轴
const xTickValues = [0, 0.5, 1, 1.5, 2];
const xTickLabels = ['0', '', '1', '', '2'];
const yTickValues = [0, 5, 10, 15];
const yTickLabels = ['0', '5', '10', '15'];

const xTitle = 'Days after cardiac surgery';
const yTitle = 'Lactate level, mmol/L';
const pLabel = 'P=0.04';
const legendLabels = ['Case, trend', 'Control, trend', 'Case', 'Control'];

// ===== 样式 =====
const FONT = '"Liberation Sans", Arial, sans-serif';
const FRAME = '#48525c';
const CASE_LINE = 'rgba(240, 96, 76, 0.45)';
const CASE_DOT = 'rgba(228, 62, 44, 0.6)';
const CTRL_LINE = '#36b052';
const CTRL_DOT = '#22a046';

const toPts = (line) => line.map(([x, y]) => ({ x, y }));

const datasets = [];
caseLines.forEach((line) => {
  datasets.push({
    data: toPts(line),
    borderColor: CASE_LINE,
    borderWidth: 2,
    pointRadius: 1.7,
    pointBackgroundColor: CASE_DOT,
    pointBorderWidth: 0,
    order: 3,
  });
});
controlLines.forEach((line) => {
  datasets.push({
    data: toPts(line),
    borderColor: CTRL_LINE,
    borderWidth: 1,
    pointRadius: 1.5,
    pointBackgroundColor: CTRL_DOT,
    pointBorderWidth: 0,
    order: 2,
  });
});
datasets.push({ data: toPts(caseTrend), borderColor: '#2d50b6', borderWidth: 3, pointRadius: 0, order: 1 });
datasets.push({ data: toPts(controlTrend), borderColor: '#ea5a2c', borderWidth: 3, pointRadius: 0, order: 1 });

// 坐标轴公共配置：只画框线和外刻度
function axis(position, values, labels, size, extra) {
  const horizontal = position === 'top' || position === 'bottom';
  return Object.assign({
    type: 'linear',
    position,
    min: horizontal ? -0.135 : -0.667,
    max: horizontal ? 2.14 : 16.0,
    afterBuildTicks: (s) => { s.ticks = values.map((value) => ({ value })); },
    afterFit: (s) => { if (horizontal) s.height = size; else s.width = size; },
    border: { display: true, color: FRAME, width: 1.5 },
    grid: { drawOnChartArea: false, drawTicks: true, tickLength: 6, color: FRAME, lineWidth: 1.3 },
    ticks: {
      autoSkip: false,
      maxRotation: 0,
      color: '#333',
      callback: (v, i) => (labels ? labels[i] : ''),
    },
  }, extra || {});
}

// 标题、P 值、图例
const decorPlugin = {
  id: 'decor',
  afterDraw(chart) {
    const ctx = chart.ctx;
    ctx.save();
    ctx.fillStyle = '#222';
    ctx.textBaseline = 'middle';

    // y 轴标题（拉伸到原图长度）
    ctx.save();
    ctx.translate(23, 190);
    ctx.rotate(-Math.PI / 2);
    ctx.font = `21px ${FONT}`;
    const w = ctx.measureText(yTitle).width;
    ctx.scale(224 / w, 1);
    ctx.textAlign = 'center';
    ctx.fillText(yTitle, 0, 0);
    ctx.restore();

    // x 轴标题
    ctx.font = `15.5px ${FONT}`;
    ctx.textAlign = 'center';
    ctx.fillText(xTitle, 267, 460);

    // P 值
    ctx.font = `17px ${FONT}`;
    ctx.fillText(pLabel, 262, 398);

    // 图例
    const x0 = 492, x1 = 522, tx = 537;
    const rows = [62, 86, 134, 162];
    ctx.font = `13.5px ${FONT}`;
    ctx.textAlign = 'left';
    ctx.lineCap = 'butt';

    ctx.strokeStyle = '#2d50c0';
    ctx.lineWidth = 2.2;
    ctx.beginPath(); ctx.moveTo(x0, rows[0]); ctx.lineTo(x1, rows[0]); ctx.stroke();

    ctx.strokeStyle = '#f27658';
    ctx.beginPath(); ctx.moveTo(x0, rows[1]); ctx.lineTo(x1, rows[1]); ctx.stroke();

    ctx.strokeStyle = 'rgba(240, 90, 70, 0.55)';
    ctx.lineWidth = 4;
    ctx.beginPath(); ctx.moveTo(x0, rows[2]); ctx.lineTo(x1, rows[2]); ctx.stroke();
    ctx.strokeStyle = '#e8402c';
    ctx.lineWidth = 1.5;
    ctx.beginPath(); ctx.moveTo(x0, rows[2]); ctx.lineTo(x1, rows[2]); ctx.stroke();
    ctx.fillStyle = '#e63a28';
    [x0, x1].forEach((x) => { ctx.beginPath(); ctx.arc(x, rows[2], 3, 0, Math.PI * 2); ctx.fill(); });

    ctx.strokeStyle = '#1fa650';
    ctx.lineWidth = 2;
    ctx.beginPath(); ctx.moveTo(x0, rows[3]); ctx.lineTo(x1, rows[3]); ctx.stroke();
    ctx.fillStyle = '#1fa650';
    [x0, x1].forEach((x) => { ctx.beginPath(); ctx.arc(x, rows[3], 3, 0, Math.PI * 2); ctx.fill(); });

    ctx.fillStyle = '#222';
    legendLabels.forEach((t, i) => ctx.fillText(t, tx, rows[i] + 1));
    ctx.restore();
  },
};

new Chart(document.getElementById('chart'), {
  type: 'line',
  data: { datasets },
  options: {
    responsive: false,
    animation: false,
    events: [],
    parsing: false,
    normalized: true,
    spanGaps: true,
    layout: { padding: 0 },
    elements: { line: { tension: 0 } },
    plugins: { legend: { display: false }, tooltip: { enabled: false }, title: { display: false } },
    scales: {
      x: axis('bottom', xTickValues, xTickLabels, 51, {
        ticks: {
          autoSkip: false, maxRotation: 0, padding: 7, color: '#333',
          font: (c) => ({ family: FONT, size: c.tick && c.tick.value === 0 ? 10 : 14, weight: c.tick && c.tick.value === 2 ? 'bold' : 'normal' }),
          callback: (v, i) => xTickLabels[i],
        },
      }),
      x2: axis('top', xTickValues, null, 16),
      y: axis('left', yTickValues, yTickLabels, 56, {
        ticks: {
          autoSkip: false, padding: 7, color: '#333',
          font: { family: FONT, size: 11 },
          callback: (v, i) => yTickLabels[i],
        },
      }),
      y2: axis('right', yTickValues, null, 147),
    },
  },
  plugins: [decorPlugin],
});
</script>
</body>
</html>
